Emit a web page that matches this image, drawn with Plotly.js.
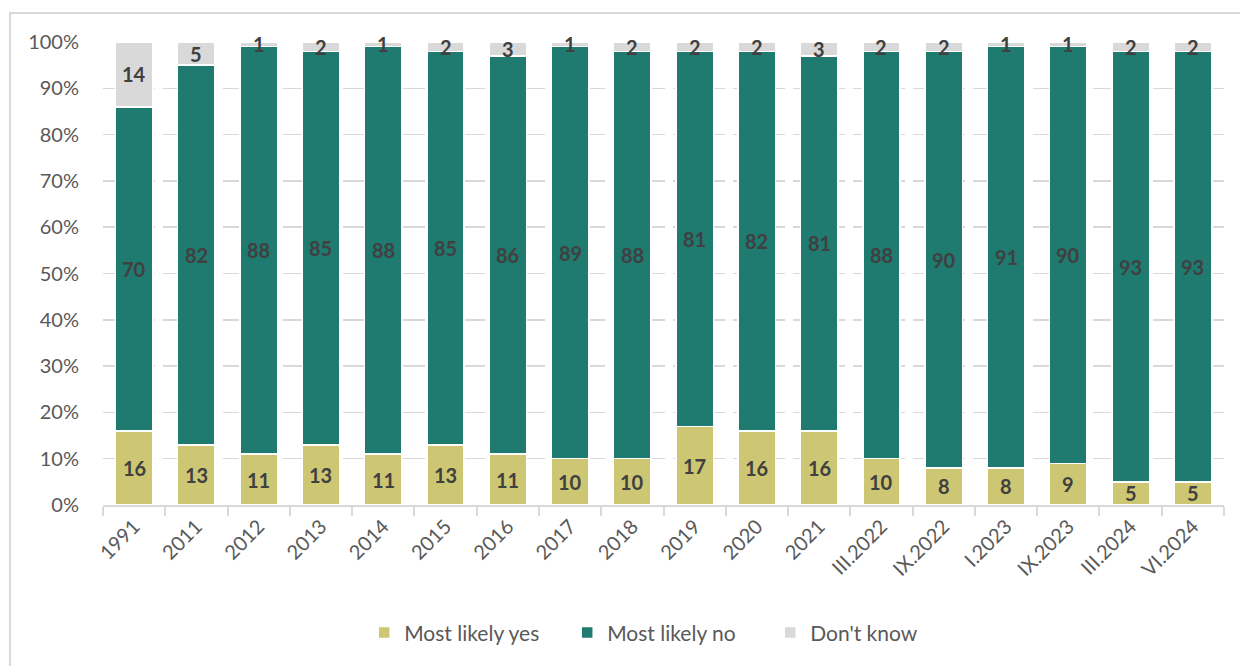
<!DOCTYPE html>
<html>
<head>
<meta charset="utf-8">
<script src="https://cdn.plot.ly/plotly-3.0.1.min.js"></script>
<style>
  html, body { margin: 0; padding: 0; background: #fff; }
  #wrap { position: relative; width: 1240px; height: 666px; overflow: hidden; }
  #frame { position: absolute; left: 9px; top: 12px; width: 1240px; height: 670px; border: 2px solid #d9d9d9; box-sizing: border-box; pointer-events: none; }
  #chart { position: absolute; left: 0; top: 0; width: 1240px; height: 666px; }
</style>
</head>
<body>
<div id="wrap">
  <div id="chart"></div>
  <div id="frame"></div>
</div>
<script>
const categories = ["1991","2011","2012","2013","2014","2015","2016","2017","2018","2019","2020","2021","III.2022","IX.2022","I.2023","IX.2023","III.2024","VI.2024"];
const mostLikelyYes = [16,13,11,13,11,13,11,10,10,17,16,16,10,8,8,9,5,5];
const mostLikelyNo  = [70,82,88,85,88,85,86,89,88,81,82,81,88,90,91,90,93,93];
const dontKnow      = [14,5,1,2,1,2,3,1,2,2,2,3,2,2,1,1,2,2];
const yTicks = [0,10,20,30,40,50,60,70,80,90,100];

const fontFam = "Lato, 'Open Sans', sans-serif";
const seriesList = [
  { name: 'Most likely yes', vals: mostLikelyYes, color: '#cdc673' },
  { name: 'Most likely no', vals: mostLikelyNo, color: '#1f7a6f' },
  { name: "Don't know", vals: dontKnow, color: '#d9d9d9' }
];
const data = seriesList.map(s => ({
  type: 'bar', name: s.name, x: categories, y: s.vals,
  marker: { color: s.color, line: { color: '#ffffff', width: 1.5 } },
  textposition: 'none', hoverinfo: 'skip'
}));

// data labels centred on each stacked segment (category index + stacked value midpoint)
const annotations = [];
const base = categories.map(() => 0);
seriesList.forEach(s => {
  s.vals.forEach((v, i) => {
    annotations.push({
      x: i, y: base[i] + v / 2, xref: 'x', yref: 'y',
      text: String(v), showarrow: false,
      font: { family: fontFam, size: 20, color: '#404040', weight: 'bold' }
    });
    base[i] += v;
  });
});

const layout = {
  width: 1240, height: 666,
  margin: { l: 103, r: 16, t: 42, b: 161 },
  barmode: 'stack', bargap: 0.4,
  paper_bgcolor: 'rgba(0,0,0,0)', plot_bgcolor: 'rgba(0,0,0,0)',
  font: { family: fontFam, size: 20, color: '#595959' },
  showlegend: true,
  legend: { orientation: 'h', x: 0.233, xanchor: 'left', y: -0.276, yanchor: 'middle',
            font: { size: 21, color: '#595959' }, traceorder: 'normal', itemwidth: 30,
            entrywidth: 158, entrywidthmode: 'pixels' },
  annotations: annotations,
  xaxis: { type: 'category', range: [-0.5, categories.length - 0.5], tickangle: -45, showgrid: false, showline: true, linecolor: '#d9d9d9', linewidth: 2,
           ticks: 'outside', tickson: 'boundaries', ticklen: 9, tickcolor: '#d9d9d9', tickwidth: 2,
           tickfont: { size: 20, color: '#595959' }, fixedrange: true },
  yaxis: { range: [0, 100], tickvals: yTicks, ticktext: yTicks.map(v => v + '%'),
           showgrid: true, gridcolor: '#d9d9d9', gridwidth: 1.5, griddash: '22px,8px',
           zeroline: false, showline: false, ticks: '', ticklabelstandoff: 23,
           tickfont: { size: 20, color: '#595959' }, fixedrange: true }
};
Plotly.newPlot('chart', data, layout, { displayModeBar: false, staticPlot: true });
</script>
</body>
</html>
